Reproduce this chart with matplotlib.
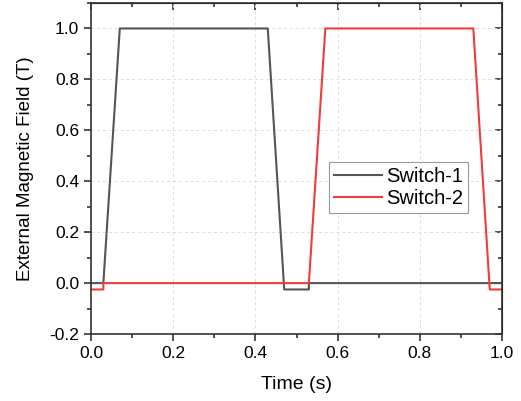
import matplotlib.pyplot as plt
from matplotlib.ticker import MultipleLocator

plt.rcParams["font.family"] = ["Liberation Sans", "DejaVu Sans"]

# Switch-1 waveform
t1 = [0.0, 0.03, 0.07, 0.43, 0.47, 0.53, 0.53, 1.0]
b1 = [0.0, 0.0, 1.0, 1.0, -0.025, -0.025, 0.0, 0.0]

# Switch-2 waveform
t2 = [0.0, 0.03, 0.03, 0.53, 0.57, 0.93, 0.97, 1.0]
b2 = [-0.025, -0.025, 0.0, 0.0, 1.0, 1.0, -0.025, -0.025]

fig = plt.figure(figsize=(5.21, 4.01), dpi=100)
ax = fig.add_axes([0.1747, 0.167, 0.789, 0.8255])

ax.plot(t1, b1, color="#555555", lw=1.5, label="Switch-1")
ax.plot(t2, b2, color="#f03c3c", lw=1.5, label="Switch-2")

ax.set_xlim(0, 1.0)
ax.set_ylim(-0.2, 1.1)
ax.xaxis.set_major_locator(MultipleLocator(0.2))
ax.xaxis.set_minor_locator(MultipleLocator(0.1))
ax.yaxis.set_major_locator(MultipleLocator(0.2))
ax.yaxis.set_minor_locator(MultipleLocator(0.1))
ax.xaxis.set_major_formatter(plt.FormatStrFormatter("%.1f"))
ax.yaxis.set_major_formatter(plt.FormatStrFormatter("%.1f"))

ax.grid(True, which="major", ls=(0, (3, 3)), color="#dddddd", lw=0.7)
for s in ax.spines.values():
    s.set_linewidth(1.2)
    s.set_color("#333333")

ax.tick_params(which="both", direction="out", top=False, right=False,
               width=1.2, color="#333333", labelsize=12.5)
ax.tick_params(which="major", length=5)
ax.tick_params(which="minor", length=3)
# mirrored inward ticks on top and right
axt = ax.secondary_xaxis("top")
axt.xaxis.set_major_locator(MultipleLocator(0.2))
axt.xaxis.set_minor_locator(MultipleLocator(0.1))
axt.tick_params(which="both", direction="in", labeltop=False, width=1.2, color="#333333")
axt.tick_params(which="major", length=5)
axt.tick_params(which="minor", length=3)
axr = ax.secondary_yaxis("right")
axr.yaxis.set_major_locator(MultipleLocator(0.2))
axr.yaxis.set_minor_locator(MultipleLocator(0.1))
axr.tick_params(which="both", direction="in", labelright=False, width=1.2, color="#333333")
axr.tick_params(which="major", length=5)
axr.tick_params(which="minor", length=3)

ax.set_xlabel("Time (s)", fontsize=14, labelpad=11)
ax.set_ylabel("External Magnetic Field (T)", fontsize=13.5, labelpad=11)

leg = ax.legend(loc="upper left", bbox_to_anchor=(0.579, 0.52), borderaxespad=0,
                fontsize=14.5, fancybox=False, edgecolor="#999999",
                handlelength=2.4, handletextpad=0.2, borderpad=0.25,
                labelspacing=0.15, framealpha=1)
leg.get_frame().set_linewidth(0.8)

fig.savefig("out.png", dpi=100)
